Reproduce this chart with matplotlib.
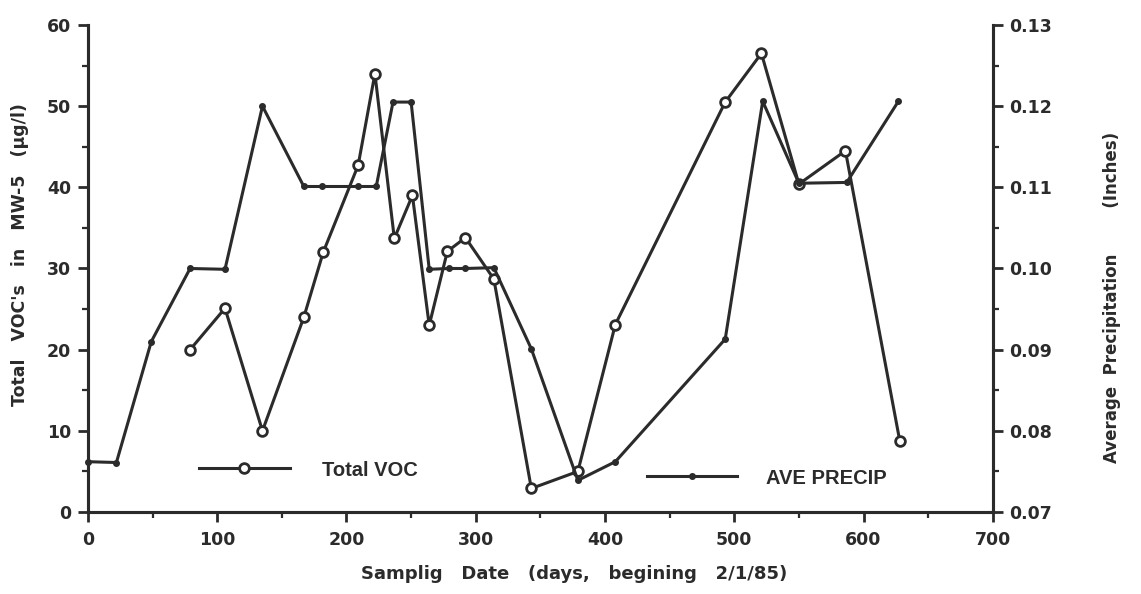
import matplotlib
matplotlib.use("Agg")
import matplotlib.pyplot as plt
from matplotlib.ticker import MultipleLocator, FormatStrFormatter
from matplotlib.lines import Line2D

# ---- data ----
voc_days = [79, 106, 135, 167, 182, 209, 222, 237, 251, 264, 278, 292, 314,
            343, 379, 408, 493, 521, 550, 586, 628]
voc_vals = [20.0, 25.1, 10.0, 24.0, 32.0, 42.7, 54.0, 33.7, 39.0, 23.0, 32.1,
            33.8, 28.7, 2.9, 5.0, 23.1, 50.5, 56.5, 40.4, 44.5, 8.8]

precip_days = [0, 22, 49, 79, 106, 135, 167, 181, 209, 223, 236, 250, 264,
               279, 292, 314, 343, 379, 408, 493, 522, 550, 587, 627]
precip_vals = [0.0762, 0.0761, 0.0910, 0.1000, 0.0999, 0.1200, 0.1101, 0.1101,
               0.1101, 0.1101, 0.1205, 0.1205, 0.0999, 0.1000, 0.1000, 0.1001,
               0.0901, 0.0739, 0.0762, 0.0913, 0.1206, 0.1105, 0.1106, 0.1206]

x_ticks = [0, 100, 200, 300, 400, 500, 600, 700]
voc_ticks = [0, 10, 20, 30, 40, 50, 60]
precip_ticks = [0.07, 0.08, 0.09, 0.10, 0.11, 0.12, 0.13]

ink = "#2b2b2b"
plt.rcParams['font.family'] = ['DejaVu Sans']
tick_font = dict(family='DejaVu Sans', weight='bold', size=12.5)

fig = plt.figure(figsize=(11.41, 5.94), dpi=100)
ax = fig.add_axes([0.0771, 0.138, 0.793, 0.82])
ax2 = ax.twinx()

ax.plot(voc_days, voc_vals, color=ink, lw=2.2, marker='o', ms=7,
        mfc='white', mec=ink, mew=2.0, zorder=3, clip_on=False)
ax2.plot(precip_days, precip_vals, color=ink, lw=2.2, marker='o', ms=4,
         mfc=ink, mec=ink, zorder=3, clip_on=False)

ax.set_xlim(0, 700)
ax.set_ylim(0, 60)
ax2.set_ylim(0.07, 0.13)

ax.set_xticks(x_ticks)
ax.xaxis.set_minor_locator(MultipleLocator(50))
ax.set_yticks(voc_ticks)
ax.yaxis.set_minor_locator(MultipleLocator(5))
ax2.set_yticks(precip_ticks)
ax2.yaxis.set_minor_locator(MultipleLocator(0.005))
ax2.yaxis.set_major_formatter(FormatStrFormatter('%.2f'))

for a in (ax, ax2):
    a.spines['top'].set_visible(False)
    for s in a.spines.values():
        s.set_linewidth(2.2)
        s.set_color(ink)
    a.tick_params(which='major', length=7, width=2, color=ink,
                  labelcolor=ink, direction='out', pad=5)
    a.tick_params(which='minor', length=4, width=1.6, color=ink, direction='out')
    for lab in a.get_xticklabels() + a.get_yticklabels():
        lab.set_fontproperties(tick_font)
ax.tick_params(axis='x', which='major', pad=7)

ax.set_xlabel("Samplig   Date   (days,   begining   2/1/85)", fontsize=13,
              fontweight='bold', color=ink, va='center')
ax.xaxis.set_label_coords(0.537, -0.127)
ax.set_ylabel("Total   VOC's   in   MW-5   (\u00b5g/l)", fontsize=12.5,
              fontweight='bold', color=ink, va='center')
ax.yaxis.set_label_coords(-0.075, 0.528)
ax2.set_ylabel("Average  Precipitation" + " " * 8 + "(Inches)", fontsize=12,
               fontweight='bold', color=ink, va='center', rotation=90)
ax2.yaxis.set_label_coords(1.1315, 0.44)

h1 = Line2D([], [], color=ink, lw=2.2, marker='o', ms=7, mfc='white',
            mec=ink, mew=2.0)
h2 = Line2D([], [], color=ink, lw=2.2, marker='o', ms=4, mfc=ink, mec=ink)
leg_font = dict(family='Liberation Sans', weight='bold', size=14.5)
leg1 = ax.legend([h1], ["Total VOC"], loc='center left',
                 bbox_to_anchor=(0.1227, 0.0862), frameon=False,
                 borderaxespad=0, borderpad=0,
                 handlelength=4.5, handletextpad=1.6, prop=leg_font)
ax.add_artist(leg1)
leg2 = ax.legend([h2], ["AVE PRECIP"], loc='center left',
                 bbox_to_anchor=(0.6177, 0.0698), frameon=False,
                 borderaxespad=0, borderpad=0,
                 handlelength=4.5, handletextpad=1.4, prop=leg_font)
for lg in (leg1, leg2):
    for t in lg.get_texts():
        t.set_color(ink)

fig.savefig("out.png", dpi=100)
